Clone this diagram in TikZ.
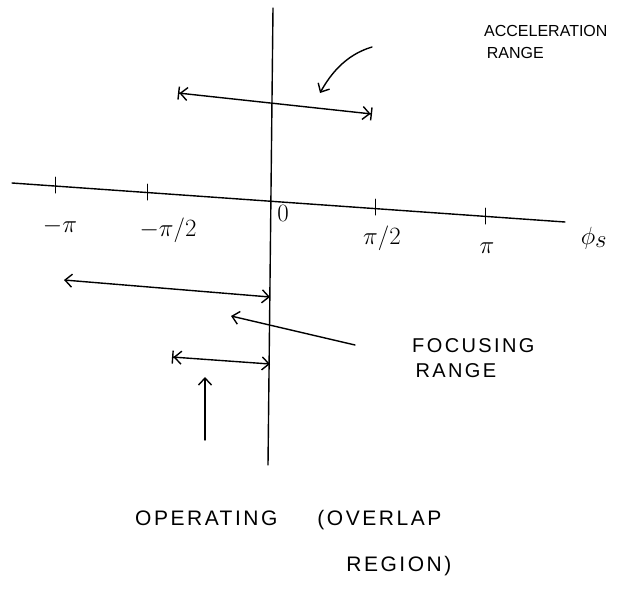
\documentclass[tikz,border=0pt]{standalone}
\usepackage{fontspec}
\usepackage{tikz}
\usetikzlibrary{arrows.meta,calc,positioning}
\newfontfamily\handA{Liberation Sans}
\newfontfamily\handB[LetterSpace=12]{Liberation Sans}
\tikzset{
  pen/.style={line width=1.4pt, line cap=round, line join=round},
  rng_both/.style={pen, {Straight Barb[length=7pt,width=13pt]}-{Straight Barb[length=7pt,width=13pt]}},
  rng_acc/.style={pen, {Bar[width=13pt]Straight Barb[length=7pt,width=13pt]}-{Straight Barb[length=7pt,width=13pt]Bar[width=13pt]}},
  rng_op/.style={pen, {Bar[width=13pt]Straight Barb[length=7pt,width=13pt]}-{Straight Barb[length=7pt,width=13pt]}},
  ptr/.style={pen, -{Straight Barb[length=7pt,width=13pt]}},
  tk/.style={pen, line width=1pt},
  lbl/.style={font=\handB\fontsize{20}{25}\selectfont, align=left, inner sep=0pt},
  tlbl/.style={font=\fontsize{23}{26}\selectfont, inner sep=1pt},
}

\begin{document}
\begin{tikzpicture}[x=1pt,y=-1pt]
\useasboundingbox (0,0) rectangle (624,600);

%% axes
\coordinate (vTop) at (273,8);
\coordinate (vBot) at (268,465);
\coordinate (hL) at (12,183);
\coordinate (hR) at (565,222);
\draw[pen] (vTop) -- (vBot);
\draw[pen] (hL) -- (hR);

%% ticks
\foreach \n/\x/\y in {mpi/55/185, mhpi/147/192, hpi/375/207, pi/485/216}
  {\coordinate (t\n) at (\x,\y);
   \draw[tk] ($(t\n)+(0,-8)$) -- ($(t\n)+(0,8)$);}
\node[tlbl] at (60,226)  (Lmpi){$-\pi$};
\node[tlbl] at (168,230) (Lmhpi){$-\pi/2$};
\node[tlbl] at (283,213) (L0){$0$};
\node[tlbl] at (382,238) (Lhpi){$\pi/2$};
\node[tlbl] at (487,248) (Lpi){$\pi$};
\node[font=\fontsize{36}{38}\selectfont, inner sep=0pt] at (594,238) (Lphi){$\phi_s$};

%% acceleration range
\coordinate (aL) at (178,93);
\coordinate (aR) at (372,114);
\draw[rng_acc] (aL) -- (aR);
\node[lbl, font=\handA\fontsize{16}{22}\selectfont, anchor=west] at (484,42) (accLbl){ACCELERATION\\\,RANGE};
\coordinate (aTail) at (372,47);
\coordinate (aHead) at (320,93);
\draw[ptr] (aTail) .. controls (345,55) and (330,75) .. (aHead);

%% focusing range
\coordinate (fL) at (64,280);
\coordinate (fR) at (270,297);
\draw[rng_both] (fL) -- (fR);
\node[lbl, anchor=west] at (412,358) (focLbl){FOCUSING\\\,RANGE};
\coordinate (fTail) at (355,345);
\coordinate (fHead) at (231,316);
\draw[ptr] (fTail) -- (fHead);

%% operating range
\coordinate (oL) at (172,357);
\coordinate (oR) at (270,364);
\draw[rng_op] (oL) -- (oR);
\coordinate (oTail) at (205,440);
\coordinate (oHead) at (205,377);
\draw[ptr] (oTail) -- (oHead);
\node[lbl, font=\handB\fontsize{21}{24}\selectfont, anchor=west] at (135,520) (opLbl){OPERATING\hspace{40pt}(OVERLAP};
\node[lbl, font=\handB\fontsize{21}{24}\selectfont, anchor=north east] at ($(opLbl.south east)+(10,26)$) (opLbl2){REGION)};

\end{tikzpicture}
\end{document}
